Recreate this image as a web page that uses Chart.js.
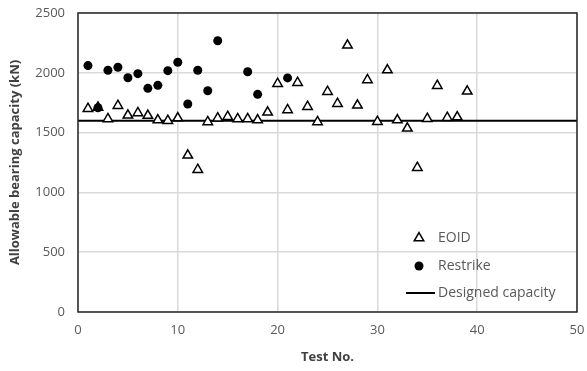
<!DOCTYPE html>
<html>
<head>
<meta charset="utf-8">
<script src="https://cdn.jsdelivr.net/npm/chart.js@4"></script>
<style>
  html, body { margin: 0; padding: 0; background: #fff; }
</style>
</head>
<body>
<canvas id="myChart" width="587" height="371"></canvas>
<script>
// data
const eoidTests = [1, 2, 3, 4, 5, 6, 7, 8, 9, 10, 11, 12, 13, 14, 15, 16, 17, 18, 19, 20,
    21, 22, 23, 24, 25, 26, 27, 28, 29, 30, 31, 32, 33, 34, 35, 36, 37, 38, 39];
const eoidValues = [1700, 1710, 1614, 1725, 1645, 1664, 1642, 1605, 1600, 1622, 1310, 1190, 1589, 1620, 1633, 1614, 1614, 1605, 1670, 1909,
    1689, 1917, 1717, 1589, 1842, 1742, 2230, 1728, 1940, 1591, 2023, 1605, 1536, 1207, 1616, 1892, 1625, 1630, 1845];
const restrikeTests = [1, 2, 3, 4, 5, 6, 7, 8, 9, 10, 11, 12, 13, 14, 17, 18, 21];
const restrikeValues = [2060, 1708, 2021, 2046, 1959, 1993, 1870, 1895, 2018, 2088, 1739, 2021, 1850, 2268, 2009, 1820, 1957];
const designedX = [0, 50];
const designedValue = 1600;

const xTicks = [0, 10, 20, 30, 40, 50];
const yTicks = [0, 500, 1000, 1500, 2000, 2500];

const fontFamily = "'Open Sans', sans-serif";

function toPoints(xs, ys) {
    return xs.map(function (x, i) { return { x: x, y: ys[i] }; });
}

// frame around the plot area
const framePlugin = {
    id: 'frame',
    afterDraw: function (chart) {
        const a = chart.chartArea;
        const ctx = chart.ctx;
        ctx.save();
        ctx.strokeStyle = '#262626';
        ctx.lineWidth = 1.5;
        ctx.strokeRect(a.left, a.top, a.right - a.left, a.bottom - a.top);
        ctx.restore();
    }
};

// legend placed inside the plot, bottom right
const legendPlugin = {
    id: 'innerLegend',
    afterDraw: function (chart) {
        const a = chart.chartArea;
        const ctx = chart.ctx;
        const mx = a.right - 158;
        const tx = a.right - 139;
        const rows = [a.bottom - 74, a.bottom - 46, a.bottom - 19];
        ctx.save();
        ctx.font = '14px ' + fontFamily;
        ctx.fillStyle = '#595959';
        ctx.textBaseline = 'middle';
        ctx.fillText('EOID', tx, rows[0]);
        ctx.fillText('Restrike', tx, rows[1]);
        ctx.fillText('Designed capacity', tx, rows[2]);

        ctx.strokeStyle = '#000';
        ctx.fillStyle = '#fff';
        ctx.lineWidth = 1.5;
        Chart.helpers.drawPoint(ctx, { pointStyle: 'triangle', radius: 5.5, borderWidth: 1.5 }, mx, rows[0]);
        ctx.fillStyle = '#000';
        ctx.beginPath();
        ctx.arc(mx, rows[1], 4.5, 0, Math.PI * 2);
        ctx.fill();
        ctx.lineWidth = 2;
        ctx.beginPath();
        ctx.moveTo(mx - 13, rows[2]);
        ctx.lineTo(mx + 16, rows[2]);
        ctx.stroke();
        ctx.restore();
    }
};

const data = {
    datasets: [{
        label: 'Restrike',
        type: 'scatter',
        data: toPoints(restrikeTests, restrikeValues),
        pointStyle: 'circle',
        pointRadius: 4.5,
        backgroundColor: '#000',
        borderColor: '#000',
        borderWidth: 0,
        order: 1
    }, {
        label: 'EOID',
        type: 'scatter',
        data: toPoints(eoidTests, eoidValues),
        pointStyle: 'triangle',
        pointRadius: 5.5,
        backgroundColor: '#fff',
        borderColor: '#000',
        borderWidth: 1.5,
        order: 2
    }, {
        label: 'Designed capacity',
        type: 'line',
        data: toPoints(designedX, designedX.map(function () { return designedValue; })),
        borderColor: '#000',
        borderWidth: 2,
        pointRadius: 0,
        fill: false,
        order: 3
    }]
};

const config = {
    type: 'scatter',
    data: data,
    options: {
        responsive: false,
        animation: false,
        layout: { padding: { top: 13, right: 10, bottom: 6, left: 0 } },
        plugins: {
            legend: { display: false },
            tooltip: { enabled: false }
        },
        scales: {
            x: {
                type: 'linear',
                min: 0,
                max: 50,
                afterBuildTicks: function (scale) {
                    scale.ticks = xTicks.map(function (v) { return { value: v }; });
                },
                grid: { color: '#d9d9d9', lineWidth: 1.5, drawTicks: false },
                border: { display: false },
                ticks: {
                    color: '#595959', font: { family: fontFamily, size: 13 }, padding: 10,
                    callback: function (v) { return String(v); }
                },
                title: {
                    display: true,
                    text: 'Test No.',
                    color: '#404040',
                    font: { family: fontFamily, size: 13, weight: 'bold' },
                    padding: { top: 5, bottom: 0 }
                },
                afterFit: function (scale) {
                    scale.height = 53;
                    scale.paddingLeft = 0;
                    scale.paddingRight = 0;
                }
            },
            y: {
                type: 'linear',
                min: 0,
                max: 2500,
                afterBuildTicks: function (scale) {
                    scale.ticks = yTicks.map(function (v) { return { value: v }; });
                },
                grid: { color: '#d9d9d9', lineWidth: 1.5, drawTicks: false },
                border: { display: false },
                ticks: {
                    color: '#595959', font: { family: fontFamily, size: 13 }, padding: 13,
                    callback: function (v) { return String(v); }
                },
                title: {
                    display: true,
                    text: 'Allowable bearing capacity (kN)',
                    color: '#404040',
                    font: { family: fontFamily, size: 13, weight: 'bold' },
                    padding: { top: 7, bottom: 0 }
                },
                afterFit: function (scale) {
                    scale.width = 78;
                    scale.paddingTop = 0;
                    scale.paddingBottom = 0;
                }
            }
        }
    },
    plugins: [framePlugin, legendPlugin]
};

const myChart = new Chart(
    document.getElementById('myChart'),
    config
);
</script>
</body>
</html>
